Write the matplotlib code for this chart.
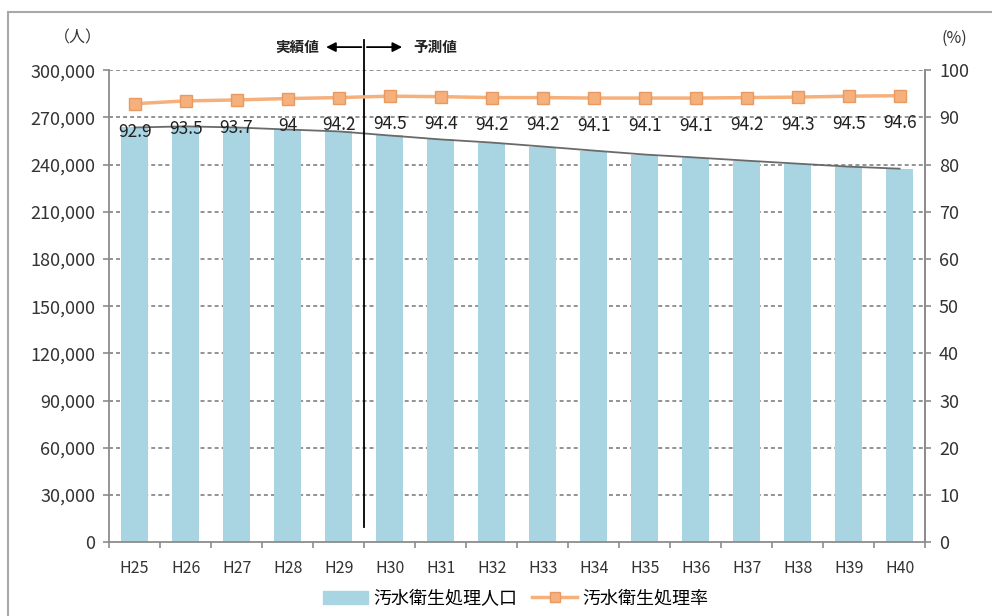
import numpy as np
import matplotlib.pyplot as plt
import matplotlib.patches as patches
from matplotlib.lines import Line2D
from matplotlib.ticker import FuncFormatter

plt.rcParams['font.family'] = ['Noto Sans CJK JP', 'DejaVu Sans']

years = ['H25', 'H26', 'H27', 'H28', 'H29', 'H30', 'H31', 'H32',
         'H33', 'H34', 'H35', 'H36', 'H37', 'H38', 'H39', 'H40']
population = [263600, 264300, 263600, 262300, 261100, 258500, 256000, 254000,
              251500, 248900, 246400, 244500, 242500, 240600, 238700, 237400]
rate = [92.9, 93.5, 93.7, 94, 94.2, 94.5, 94.4, 94.2,
        94.2, 94.1, 94.1, 94.1, 94.2, 94.3, 94.5, 94.6]
rate_labels = ['92.9', '93.5', '93.7', '94', '94.2', '94.5', '94.4', '94.2',
               '94.2', '94.1', '94.1', '94.1', '94.2', '94.3', '94.5', '94.6']

bar_color = '#a9d5e2'
line_color = '#f5b07c'
axis_color = '#8c8c8c'
text_color = '#333333'

fig = plt.figure(figsize=(9.92, 6.16), dpi=100)
ax = fig.add_axes([0.110, 0.120, 0.8226, 0.766])
x = np.arange(len(years))

ax.bar(x, population, width=0.54, color=bar_color, zorder=2)
ax.plot(x, population, color='#6a6a6a', lw=1.3, zorder=3)

ax.set_xlim(-0.5, len(years) - 0.5)
ax.set_ylim(0, 300000)
ax.set_yticks(np.arange(0, 300001, 30000))
ax.yaxis.set_major_formatter(FuncFormatter(lambda v, p: f'{int(v):,}'))
ax.set_xticks(x)
ax.set_xticklabels(years)
ax.set_xticks(np.arange(-0.5, len(years)), minor=True)
ax.tick_params(axis='x', which='major', length=0, pad=13, labelsize=11.5, colors=text_color)
ax.tick_params(axis='x', which='minor', length=4, width=1.2, color=axis_color)
ax.tick_params(axis='y', length=4, width=1.2, color=axis_color, labelsize=13,
               colors=text_color, pad=6)
for yv in np.arange(30000, 300001, 30000):
    ax.axhline(yv, color='#8a8a8a', lw=1.3, ls=(0, (2.2, 1.7)), zorder=1)

ax.spines['top'].set_visible(False)
for s in ['left', 'right', 'bottom']:
    ax.spines[s].set_color(axis_color)
    ax.spines[s].set_linewidth(1.3)

ax2 = ax.twinx()
ax2.set_ylim(0, 100)
ax2.set_yticks(np.arange(0, 101, 10))
ax2.tick_params(axis='y', length=4, width=1.2, color=axis_color, labelsize=13,
                colors=text_color, pad=6)
for s in ['top', 'left', 'bottom']:
    ax2.spines[s].set_visible(False)
ax2.spines['right'].set_color(axis_color)
ax2.spines['right'].set_linewidth(1.3)
ax2.plot(x, rate, color=line_color, lw=2.5, marker='s', markersize=8,
         markerfacecolor=line_color, markeredgecolor='#e99a62', zorder=4)
for xi, r, lab in zip(x, rate, rate_labels):
    ax2.annotate(lab, (xi, r), xytext=(0, -20), textcoords='offset points',
                 ha='center', va='center', fontsize=12.5, color='#222222')

# boundary between actual and forecast values
trans = ax.get_xaxis_transform()
ax.plot([4.5, 4.5], [0.032, 1.064], transform=trans, color='black', lw=1.3,
        clip_on=False, zorder=5)
ax.annotate('', xy=(3.7, 1.049), xytext=(4.5, 1.049), xycoords=trans, textcoords=trans,
            arrowprops=dict(arrowstyle='-|>', color='black', lw=1.3, mutation_scale=14))
ax.annotate('', xy=(5.3, 1.049), xytext=(4.5, 1.049), xycoords=trans, textcoords=trans,
            arrowprops=dict(arrowstyle='-|>', color='black', lw=1.3, mutation_scale=14))
ax.text(3.62, 1.049, '実績値', transform=trans, ha='right', va='center',
        fontsize=10.5, fontweight='bold', color='#222222')
ax.text(5.47, 1.049, '予測値', transform=trans, ha='left', va='center',
        fontsize=10.5, fontweight='bold', color='#222222')

fig.text(0.079, 0.938, '（人）', ha='center', va='center', fontsize=11.5, color=text_color)
fig.text(0.962, 0.938, '(%)', ha='center', va='center', fontsize=11.5, color=text_color)

handles = [patches.Patch(color=bar_color, label='汚水衛生処理人口'),
           Line2D([0], [0], color=line_color, lw=2.5, marker='s', markersize=7,
                  markerfacecolor=line_color, markeredgecolor='#e99a62',
                  label='汚水衛生処理率')]
fig.legend(handles=handles, loc='center', bbox_to_anchor=(0.52, 0.028), ncol=2,
           frameon=False, fontsize=13, handlelength=2.5, columnspacing=0.8,
           handletextpad=0.3)

fig.patches.append(patches.Rectangle((0.008, -0.2), 1.2, 0.2 + 0.9805,
                                     transform=fig.transFigure, fill=False,
                                     edgecolor='#a8a8a8', lw=1.5))

fig.savefig('out.png', dpi=100)
